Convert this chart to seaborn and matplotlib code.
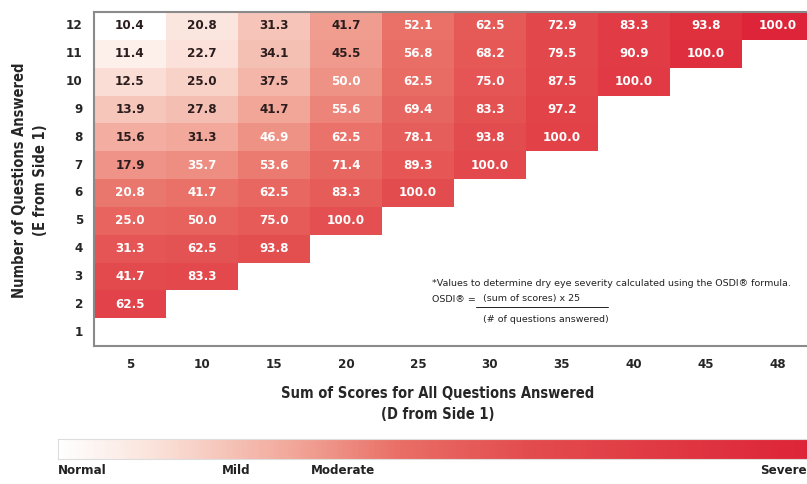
"""
osdi_table.py

OSDI lookup table: sum of scores vs. number of questions answered.
"""
import numpy as np
import pandas as pd
import seaborn as sns
import matplotlib.pyplot as plt
from matplotlib.colors import LinearSegmentedColormap

# Data (None = blank cell)
sum_scores = [5, 10, 15, 20, 25, 30, 35, 40, 45, 48]
questions = [12, 11, 10, 9, 8, 7, 6, 5, 4, 3, 2, 1]

row_12 = [10.4, 20.8, 31.3, 41.7, 52.1, 62.5, 72.9, 83.3, 93.8, 100.0]
row_11 = [11.4, 22.7, 34.1, 45.5, 56.8, 68.2, 79.5, 90.9, 100.0, None]
row_10 = [12.5, 25.0, 37.5, 50.0, 62.5, 75.0, 87.5, 100.0, None, None]
row_9 = [13.9, 27.8, 41.7, 55.6, 69.4, 83.3, 97.2, None, None, None]
row_8 = [15.6, 31.3, 46.9, 62.5, 78.1, 93.8, 100.0, None, None, None]
row_7 = [17.9, 35.7, 53.6, 71.4, 89.3, 100.0, None, None, None, None]
row_6 = [20.8, 41.7, 62.5, 83.3, 100.0, None, None, None, None, None]
row_5 = [25.0, 50.0, 75.0, 100.0, None, None, None, None, None, None]
row_4 = [31.3, 62.5, 93.8, None, None, None, None, None, None, None]
row_3 = [41.7, 83.3, None, None, None, None, None, None, None, None]
row_2 = [62.5, None, None, None, None, None, None, None, None, None]
row_1 = [None] * 10

severity_labels = ['Normal', 'Mild', 'Moderate', 'Severe']


def main():
    sns.set_style('white')
    plt.rcParams['font.family'] = ['DejaVu Sans']
    plt.rcParams['font.stretch'] = 'condensed'
    plt.rcParams['font.weight'] = 'bold'

    rows = [row_12, row_11, row_10, row_9, row_8, row_7,
            row_6, row_5, row_4, row_3, row_2, row_1]
    osdi = pd.DataFrame(rows, index=questions, columns=sum_scores, dtype=float)

    # decorative diagonal shading (white top-left -> red)
    ii, kk = np.meshgrid(np.arange(len(sum_scores)), np.arange(len(questions)))
    shade = np.sqrt((ii / 4.5) ** 2 + (kk / 7.0) ** 2)
    shade_df = pd.DataFrame(shade, index=questions, columns=sum_scores)

    cmap = LinearSegmentedColormap.from_list(
        'osdi', [(0, '#ffffff'), (0.12, '#fbe4dc'), (0.3, '#f2aa9c'),
                 (0.45, '#e96e66'), (0.62, '#e34c4e'), (1, '#de2438')])

    fig = plt.figure(figsize=(8.07, 4.84), dpi=100)
    ax = fig.add_axes([94 / 807, 1 - 346 / 484, 720 / 807, 334 / 484])

    sns.heatmap(shade_df, mask=osdi.isna(), cmap=cmap, vmin=0, vmax=2,
                cbar=False, ax=ax)

    for r, q in enumerate(questions):
        for c, s in enumerate(sum_scores):
            v = osdi.loc[q, s]
            if np.isnan(v):
                continue
            color = '#2b1d1d' if shade[r, c] < 0.715 else 'white'
            ax.text(c + 0.5, r + 0.5, f'{v:.1f}', ha='center', va='center',
                    fontsize=9.5, fontweight='bold', color=color)

    for side in ['left', 'top', 'bottom', 'right']:
        ax.spines[side].set_visible(True)
        ax.spines[side].set_color('#8a8a8a')
        ax.spines[side].set_linewidth(1.5)

    ax.set_xticklabels(sum_scores, rotation=0, fontsize=9.5, fontweight='bold')
    ax.set_yticklabels(questions, rotation=0, fontsize=9.5, fontweight='bold')
    ax.tick_params(axis='x', length=0, pad=9)
    ax.tick_params(axis='y', length=0, pad=8)
    ax.set_xlabel('')
    ax.set_ylabel('')

    fig.text(438 / 807, 1 - 404 / 484,
             'Sum of Scores for All Questions Answered\n(D from Side 1)',
             ha='center', va='center', fontsize=10.5, fontweight='bold',
             linespacing=1.5)
    fig.text(30 / 807, 1 - 180 / 484,
             'Number of Questions Answered\n(E from Side 1)',
             ha='center', va='center', rotation=90, fontsize=10.5,
             fontweight='bold', linespacing=1.5)

    # formula note
    note_kw = dict(fontsize=6.8, fontweight='normal', fontstretch='normal',
                   color='#222222')
    fig.text(432 / 807, 1 - 284 / 484,
             '*Values to determine dry eye severity calculated using the OSDI\u00ae formula.',
             ha='left', va='center', **note_kw)
    fig.text(432 / 807, 1 - 299 / 484, 'OSDI\u00ae =', ha='left',
             va='center', **note_kw)
    fig.text(532 / 807, 1 - 299 / 484, '(sum of scores) x 25', ha='center',
             va='center', **note_kw)
    fig.add_artist(plt.Line2D([476 / 807, 608 / 807],
                              [1 - 307 / 484, 1 - 307 / 484],
                              color='#222222', lw=0.7))
    fig.text(546 / 807, 1 - 320 / 484, '(# of questions answered)',
             ha='center', va='center', **note_kw)

    # severity bar
    cax = fig.add_axes([58 / 807, 1 - 459 / 484, 760 / 807, 20 / 484])
    grad = np.linspace(0, 2, 400).reshape(1, -1)
    cax.imshow(grad, aspect='auto', cmap=cmap, vmin=0, vmax=2,
               extent=[0, 1, 0, 1])
    cax.set_xticks([])
    cax.set_yticks([])
    for sp in cax.spines.values():
        sp.set_color('#dddddd')
        sp.set_linewidth(0.8)

    label_x = [58, 222, 311, 760]
    for lab, x in zip(severity_labels, label_x):
        fig.text(x / 807, 1 - 471 / 484, lab, ha='left', va='center',
                 fontsize=9.5, fontweight='bold', color='#222222')

    fig.savefig('out.png', dpi=100)


if __name__ == '__main__':
    main()
